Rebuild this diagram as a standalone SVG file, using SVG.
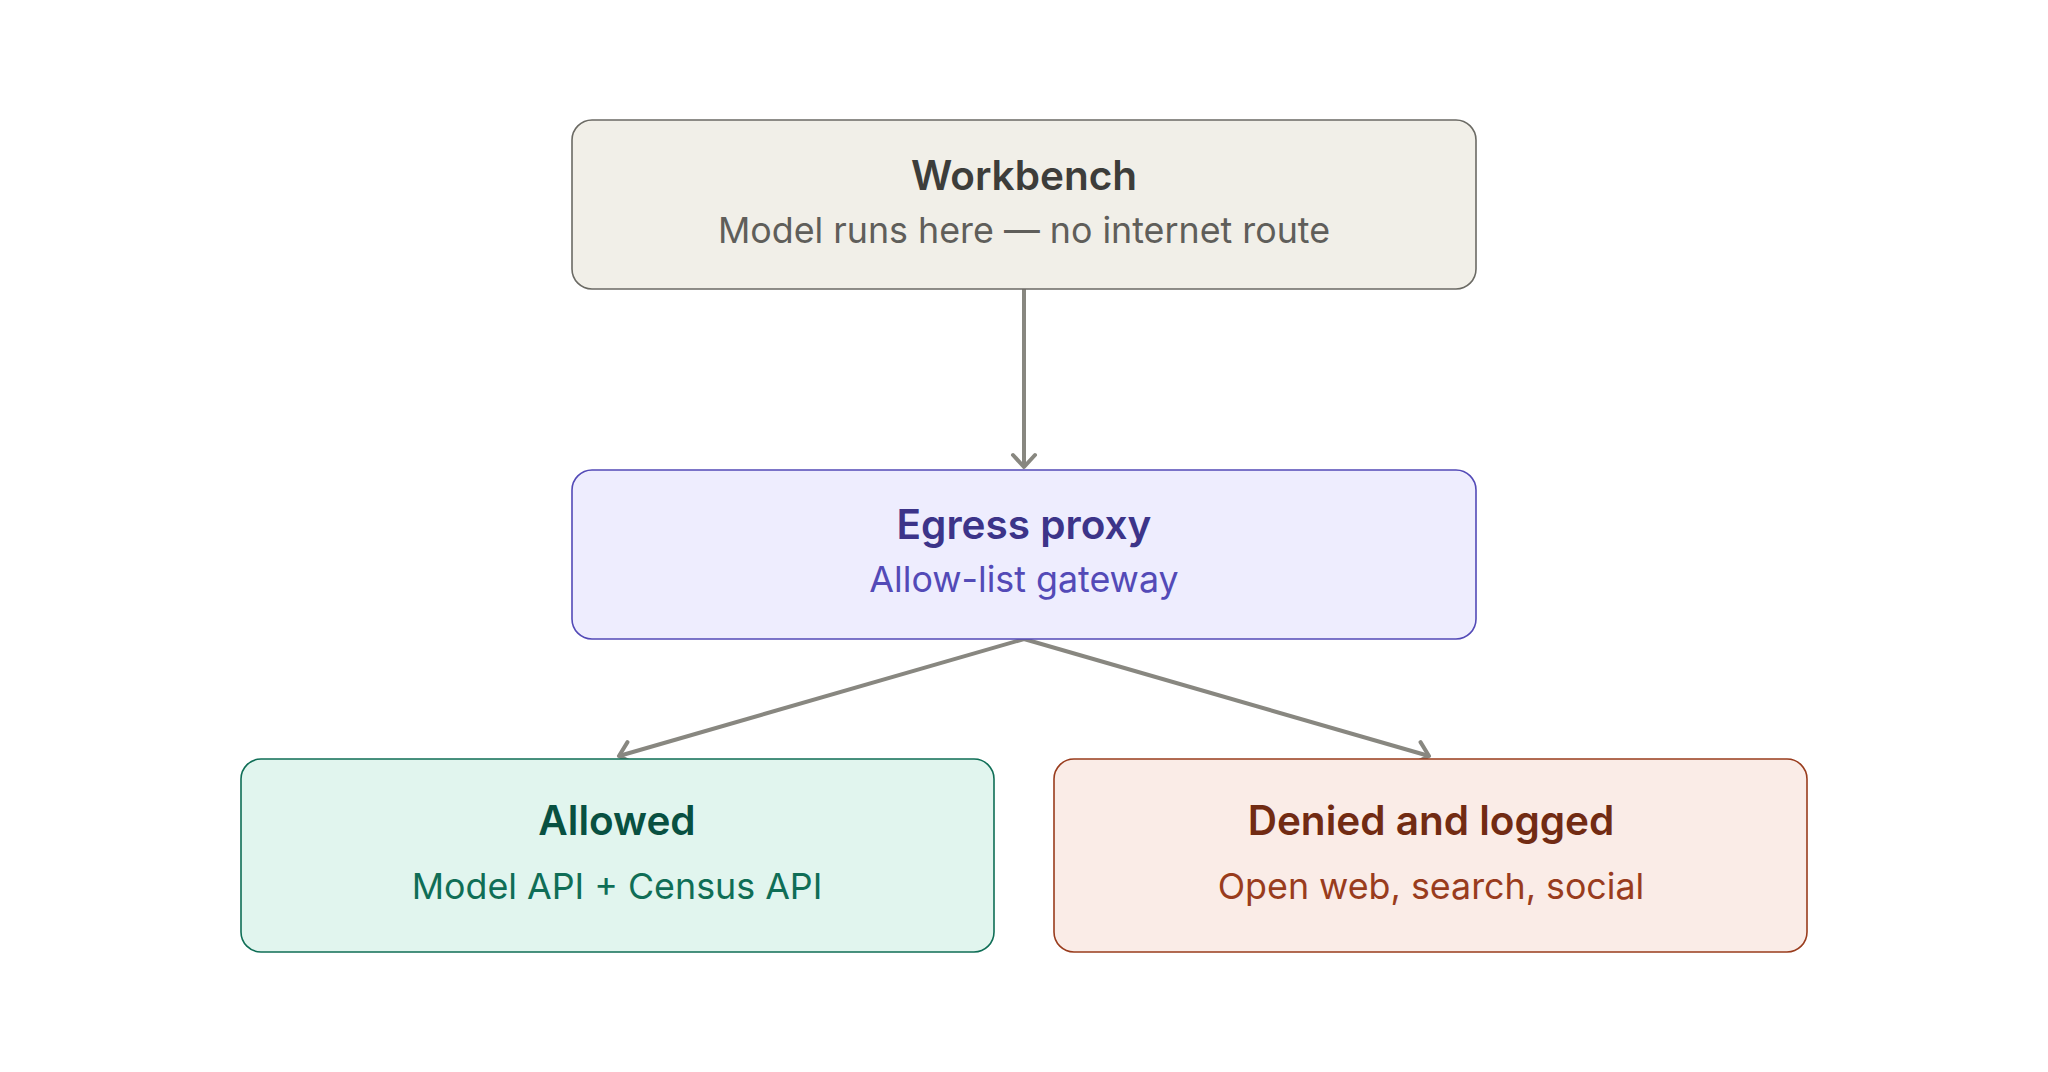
<svg xmlns="http://www.w3.org/2000/svg" width="2048" height="1072" viewBox="0 0 2048 1072">
<style>
.t{font-family:Inter,"Liberation Sans",sans-serif;font-weight:600;font-size:40.5px;text-anchor:middle}
.s{font-family:Inter,"Liberation Sans",sans-serif;font-weight:400;font-size:35.8px;text-anchor:middle}
.box{stroke-width:1.6}
.conn{stroke:#888780;stroke-width:4;fill:none}
</style>
<defs>
<marker id="arr" markerUnits="userSpaceOnUse" markerWidth="32" markerHeight="32" viewBox="0 0 32 32" refX="16" refY="16" orient="auto">
<path d="M4,5 L16,16 L4,27" fill="none" stroke="#888780" stroke-width="4" stroke-linecap="round" stroke-linejoin="round"/>
</marker>
</defs>
<rect width="2048" height="1072" fill="#ffffff"/>
<g id="connectors">
<line class="conn" x1="1024" y1="289" x2="1024" y2="467" marker-end="url(#arr)"/>
<line class="conn" x1="1024" y1="639" x2="619" y2="756" marker-end="url(#arr)"/>
<line class="conn" x1="1024" y1="639" x2="1429" y2="756" marker-end="url(#arr)"/>
</g>
<g id="workbench">
<rect class="box" x="572" y="120" width="904" height="169" rx="20" fill="#f1efe8" stroke="#6b6a64"/>
<text class="t" x="1024" y="190" fill="#3d3d3a">Workbench</text>
<text class="s" x="1024" y="243" fill="#5f5e5a">Model runs here — no internet route</text>
</g>
<g id="egress">
<rect class="box" x="572" y="470" width="904" height="169" rx="20" fill="#eeedfe" stroke="#534ab7"/>
<text class="t" x="1024" y="539" fill="#3c3489">Egress proxy</text>
<text class="s" x="1024" y="592" fill="#534ab7">Allow-list gateway</text>
</g>
<g id="allowed">
<rect class="box" x="241" y="759" width="753" height="193" rx="20" fill="#e1f5ee" stroke="#0f6e56"/>
<text class="t" x="617" y="835" fill="#085041">Allowed</text>
<text class="s" x="617" y="899" fill="#0f6e56">Model API + Census API</text>
</g>
<g id="denied">
<rect class="box" x="1054" y="759" width="753" height="193" rx="20" fill="#faece7" stroke="#993c1d"/>
<text class="t" x="1431" y="835" fill="#712b13">Denied and logged</text>
<text class="s" x="1431" y="899" fill="#993c1d">Open web, search, social</text>
</g>
</svg>
